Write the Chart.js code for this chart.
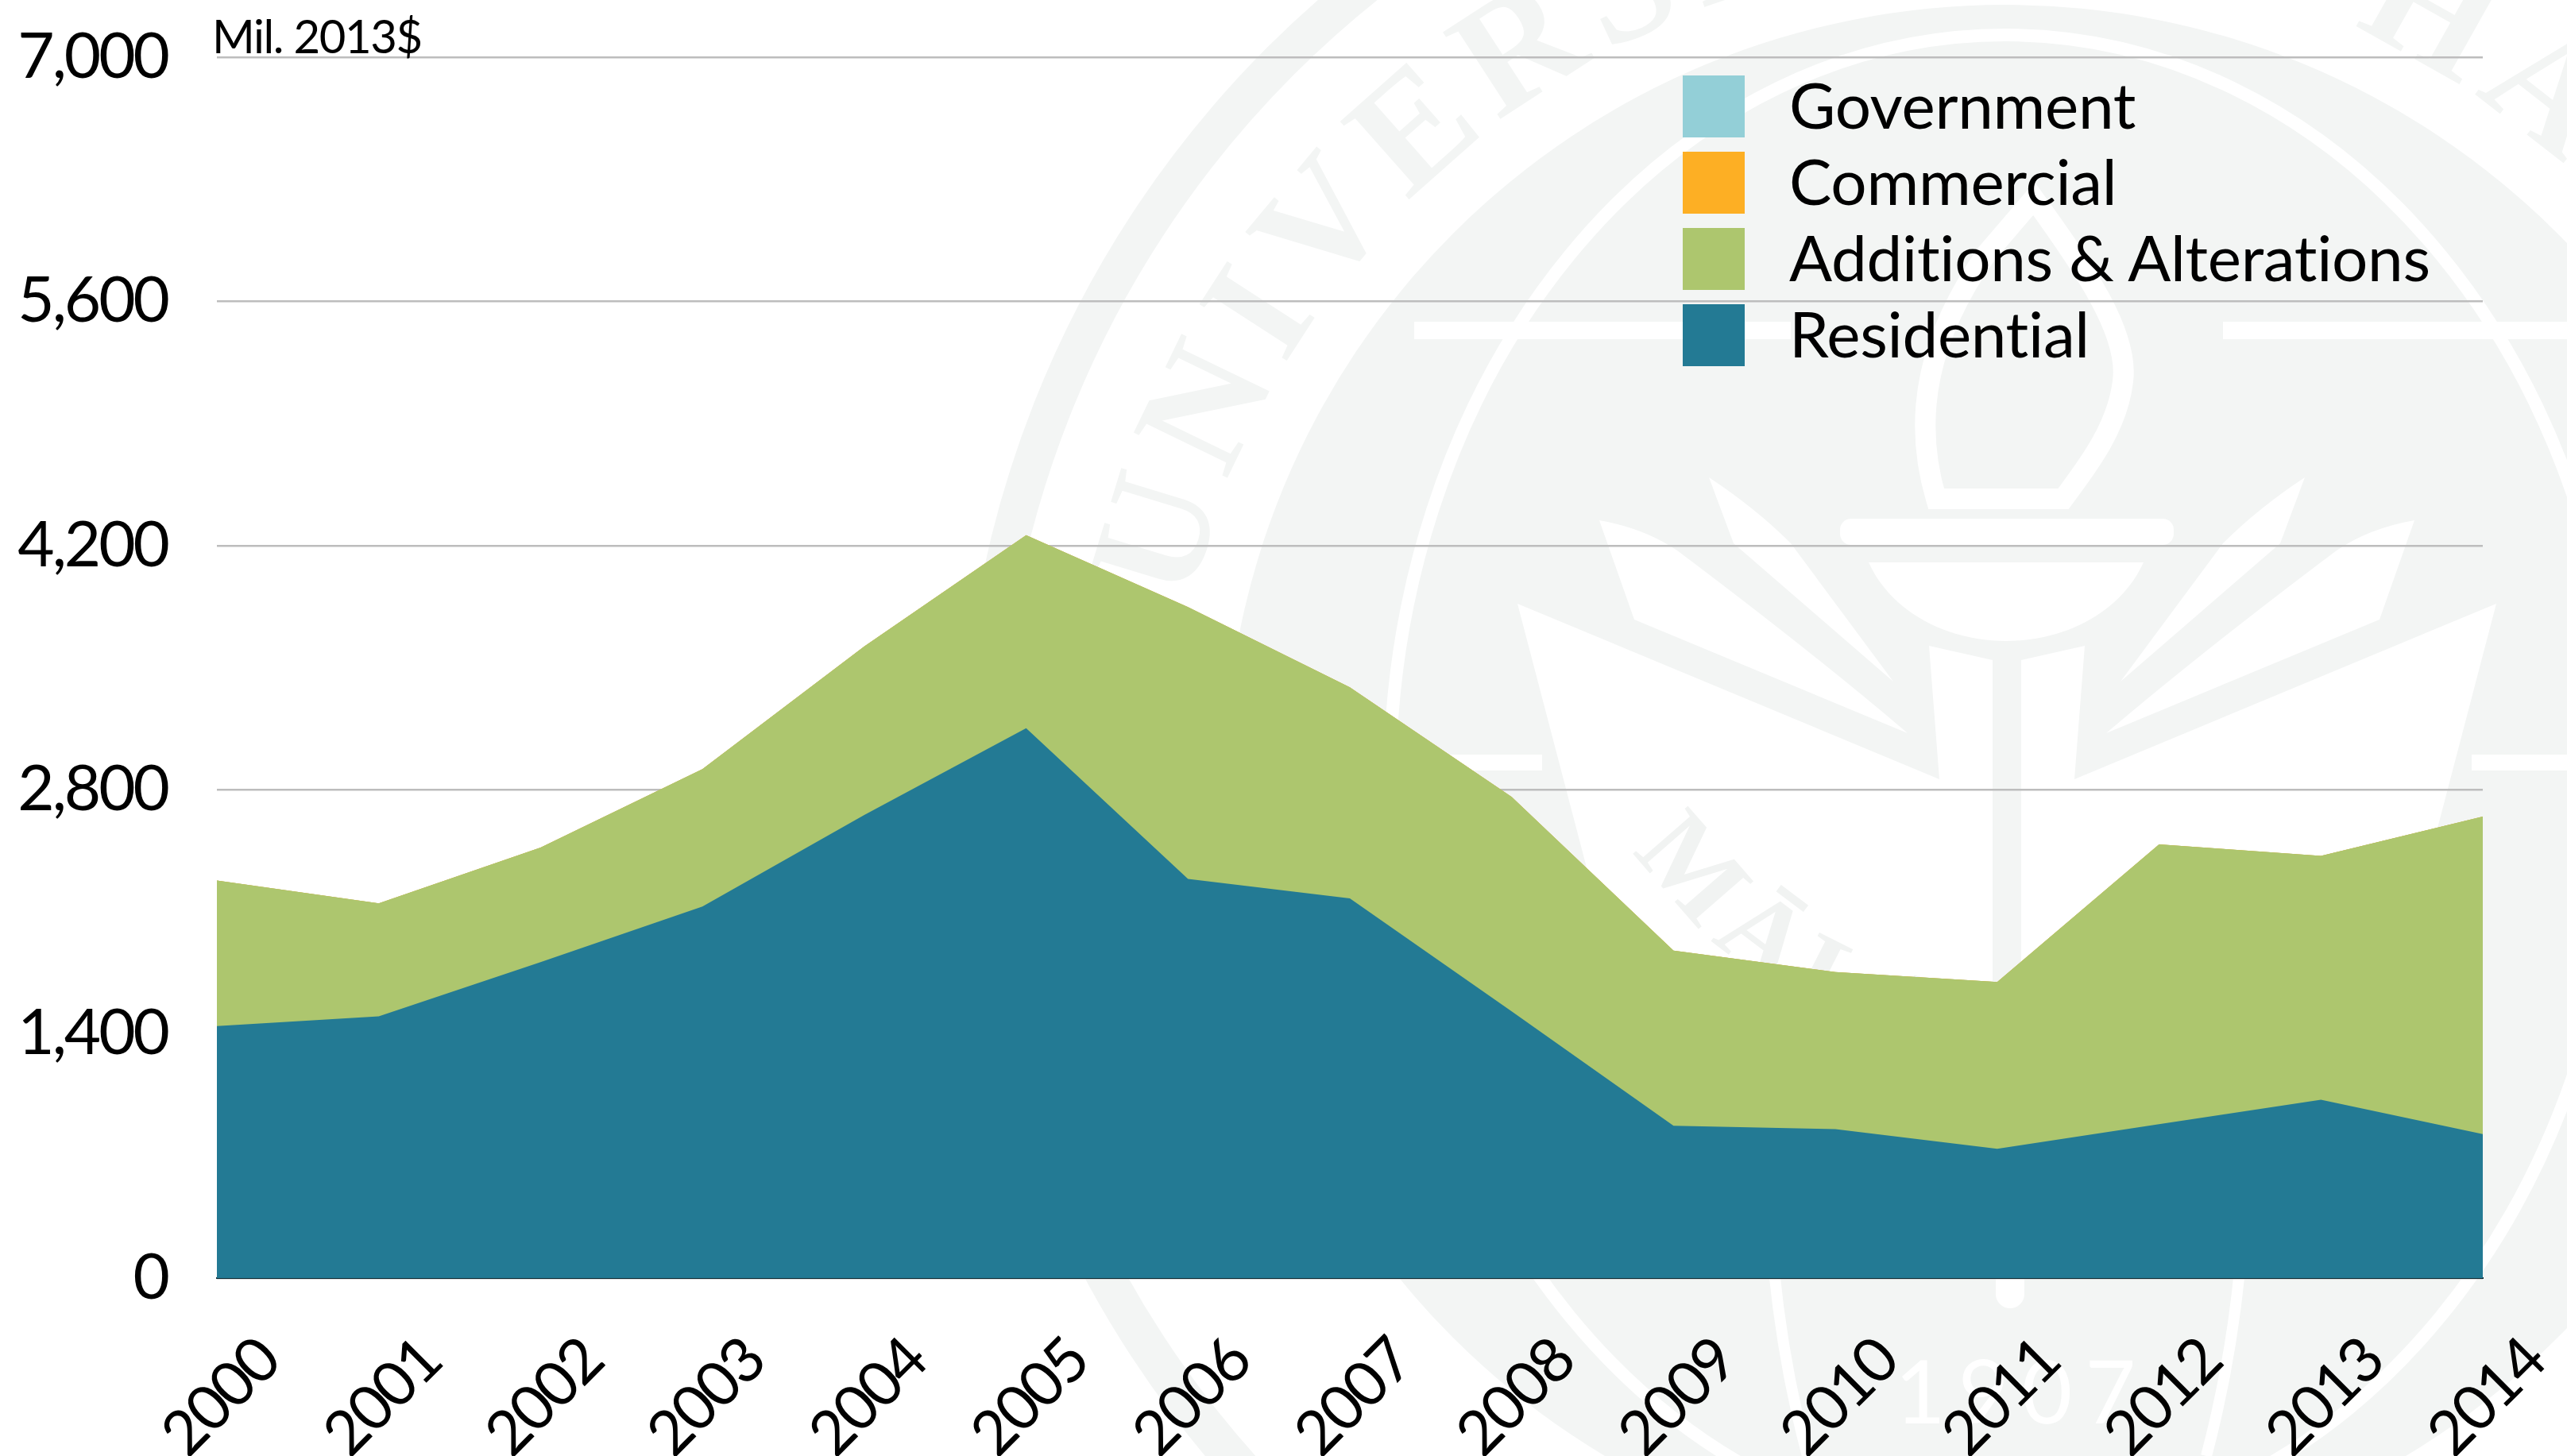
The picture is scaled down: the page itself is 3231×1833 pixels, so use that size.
<!DOCTYPE html>
<html>
<head>
<meta charset="utf-8">
<title>Construction, Mil. 2013$</title>
<script src="https://cdn.jsdelivr.net/npm/chart.js@4"></script>
<style>
  html, body { margin: 0; padding: 0; background: #fff; }
  #wrap { position: relative; width: 3231px; height: 1833px; overflow: hidden; font-family: Lato, sans-serif; color: #000; }
  #seal, #chart { position: absolute; left: 0; top: 0; }
  #unit { position: absolute; left: 267px; top: 10px; font-size: 58px; line-height: 70px; letter-spacing: -1.4px; white-space: nowrap; }
  #legend { position: absolute; left: 2118px; top: 95px; }
  .row { position: relative; height: 96px; }
  .swatch { position: absolute; left: 0; top: 0; width: 78px; height: 78px; }
  .name { position: absolute; left: 134px; top: -12px; font-size: 80px; line-height: 96px; white-space: nowrap; letter-spacing: -0.3px; }
</style>
</head>
<body>
<div id="wrap">
  <!-- faded university seal behind the plot -->
  <svg id="seal" width="3231" height="1833" viewBox="0 0 3231 1833">
    <defs>
      <path id="outerText" d="M 1474 989 A 1050 1050 0 1 1 3574 989"/>
      <path id="mottoText" d="M 2050 1060 A 640 640 0 0 0 3120 1060"/>
    </defs>
    <circle cx="2524" cy="989" r="1290" fill="none" stroke="#f3f5f4" stroke-width="48"/>
    <circle cx="2524" cy="989" r="983" fill="#f3f5f4"/>
    <ellipse cx="2524" cy="989" rx="775" ry="945" fill="none" stroke="#fff" stroke-width="16"/>
    <text font-family="Liberation Serif, serif" font-weight="bold" font-size="200" fill="#f3f5f4" letter-spacing="18"><textPath href="#outerText" startOffset="6.95%">UNIVERSITY OF HAWAII</textPath></text>
    <text font-family="Lato, sans-serif" font-size="110" fill="#fff" letter-spacing="16" x="2385" y="1792">1907</text>
    <!-- star points, mirrored around the torch -->
    <g id="starLeft" fill="#fff">
      <path d="M 1910 760 L 2441 981 L 2428 813 L 2508 831 L 2508 1480 L 2200 1400 L 2020 1180 Z"/>
      <path d="M 2013 655 Q 2070 665 2111 693 Q 2280 820 2401 923 L 2057 780 Z"/>
      <path d="M 2151 601 Q 2210 640 2254 684 L 2383 858 L 2182 684 Z"/>
      <rect x="1780" y="405" width="474" height="22"/>
      <rect x="1807" y="950" width="134" height="20"/>
      <path d="M 2233 1600 Q 2245 1720 2275 1833" fill="none" stroke="#fff" stroke-width="14"/>
    </g>
    <use href="#starLeft" transform="translate(5052 0) scale(-1 1)"/>
    <rect x="2512" y="1500" width="36" height="147" rx="18" fill="#fff"/>
    <!-- torch -->
    <path d="M 2352 708 L 2698 708 C 2670 770 2600 807 2525 807 C 2450 807 2380 770 2352 708 Z" fill="#fff"/>
    <rect x="2316" y="653" width="420" height="33" rx="14" fill="#fff"/>
    <path d="M 2437 628 C 2405 520 2430 420 2500 320 L 2560 250 C 2625 340 2680 420 2672 480 C 2665 540 2625 590 2597 628 Z" fill="none" stroke="#fff" stroke-width="26"/>
    <text font-family="Liberation Serif, serif" font-weight="bold" font-size="140" fill="#f1f3f2" letter-spacing="16"><textPath href="#mottoText" startOffset="1%">MĀLAMA</textPath></text>
  </svg>
  <canvas id="chart" width="3231" height="1833"></canvas>
  <div id="unit"></div>
  <div id="legend"></div>
</div>
<script>
const years = ["2000", "2001", "2002", "2003", "2004", "2005", "2006", "2007", "2008", "2009", "2010", "2011", "2012", "2013", "2014"];
const residential = [1445, 1501, 1811, 2130, 2655, 3153, 2289, 2177, 1529, 873, 854, 741, 882, 1023, 826];
const additions = [835, 648, 657, 788, 967, 1107, 1558, 1210, 1230, 1004, 901, 957, 1605, 1398, 1820];
const commercial = [0, 0, 0, 0, 0, 0, 0, 0, 0, 0, 0, 0, 0, 0, 0];
const government = [0, 0, 0, 0, 0, 0, 0, 0, 0, 0, 0, 0, 0, 0, 0];
const unitLabel = "Mil. 2013$";

const colors = { residential: "#237a94", additions: "#adc66e", commercial: "#fdaf24", government: "#93cfd7" };

function area(label, values, color) {
  return { label: label, data: values, backgroundColor: color, borderWidth: 0, fill: true, pointRadius: 0, tension: 0 };
}

// Stack order is bottom to top, the legend lists them the other way round
const datasets = [
  area("Residential", residential, colors.residential),
  area("Additions & Alterations", additions, colors.additions),
  area("Commercial", commercial, colors.commercial),
  area("Government", government, colors.government)
];

// Tick labels in the original are set tighter than Lato
const tightTicks = {
  id: "tightTicks",
  beforeDraw: chart => { chart.ctx.letterSpacing = "-3px"; }
};

new Chart(document.getElementById("chart"), {
  type: "line",
  data: { labels: years, datasets: datasets },
  plugins: [tightTicks],
  options: {
    responsive: false,
    animation: false,
    layout: { autoPadding: false, padding: { top: 72, right: 106 } },
    plugins: { legend: { display: false }, tooltip: { enabled: false } },
    scales: {
      x: {
        offset: false,
        afterFit: scale => { scale.height = 224; scale.paddingLeft = 0; scale.paddingRight = 0; },
        grid: { drawOnChartArea: false, drawTicks: false },
        border: { display: true, color: "#0d2a33", width: 2 },
        ticks: {
          autoSkip: false,
          minRotation: 45,
          maxRotation: 45,
          labelOffset: 65,
          padding: 58,
          color: "#000",
          font: { family: "Lato", size: 78 }
        }
      },
      y: {
        stacked: true,
        min: 0,
        max: 7000,
        afterFit: scale => { scale.width = 273; scale.paddingTop = 0; scale.paddingBottom = 0; },
        grid: { color: "#bdbdbd", lineWidth: 2.5, drawTicks: false },
        border: { display: false },
        ticks: {
          stepSize: 1400,
          padding: 62,
          color: "#000",
          font: { family: "Lato", size: 80 },
          callback: value => value.toLocaleString("en-US")
        }
      }
    }
  }
});

document.getElementById("unit").textContent = unitLabel;

const legend = document.getElementById("legend");
datasets.slice().reverse().forEach(ds => {
  const row = document.createElement("div");
  row.className = "row";
  row.innerHTML = `<div class="swatch" style="background:${ds.backgroundColor}"></div><div class="name"></div>`;
  row.querySelector(".name").textContent = ds.label;
  legend.appendChild(row);
});
</script>
</body>
</html>
